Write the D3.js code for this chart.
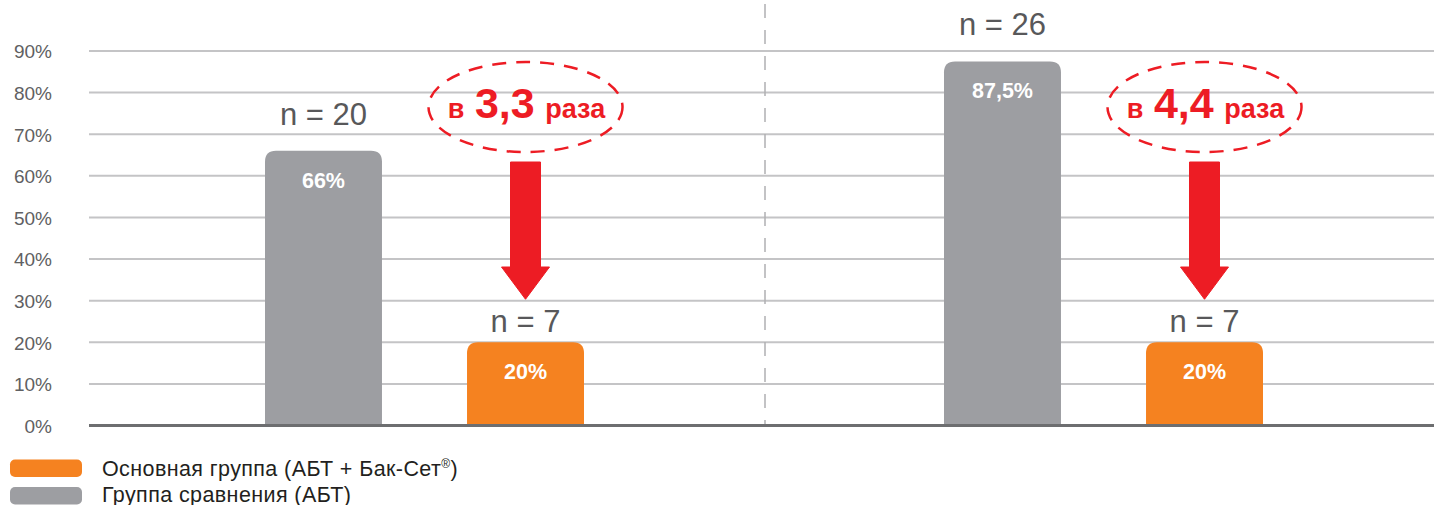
<!DOCTYPE html>
<html><head><meta charset="utf-8">
<script src="https://cdn.jsdelivr.net/npm/d3@7"></script>
<style>html,body{margin:0;padding:0;background:#fff;}svg{display:block;font-family:"Liberation Sans",Arial,sans-serif;}</style>
</head><body>
<svg id="c" width="1434" height="505"></svg>
<script>
const groups = ["g1", "g2"];
const seriesKeys = ["comparison", "main"];
const legendNames = ["Основная группа (АБТ + Бак-Сет", "Группа сравнения (АБТ)"];
const comparisonValues = [66, 87.5];
const mainValues = [20, 20];
const comparisonLabels = ["66%", "87,5%"];
const mainLabels = ["20%", "20%"];
const comparisonN = ["n = 20", "n = 26"];
const mainN = ["n = 7", "n = 7"];
const ratioLabels = ["3,3", "4,4"];
const yTicks = [0, 10, 20, 30, 40, 50, 60, 70, 80, 90];

const COLORS = {comparison: "#9d9ea2", main: "#f58220"};
const N_OFFSET = {comparison: 26, main: 10};
const RED = "#ed1c24";

const svg = d3.select("#c");
const y = d3.scaleLinear().domain([0, 90]).range([425.5, 51]);
const x0 = d3.scaleBand().domain(groups).range([90, 1448]).padding(0);
const x1 = d3.scaleBand().domain(seriesKeys).range([175, 494]).paddingInner(0.421).paddingOuter(0);
const bx = d => x0(d.g) + x1(d.key);

// gridlines
svg.append("g").selectAll("line").data(yTicks.filter(d => d > 0)).join("line")
  .attr("x1", 89).attr("x2", 1434).attr("y1", d => y(d)).attr("y2", d => y(d))
  .attr("stroke", "#c4c4c6").attr("stroke-width", 2);

// y axis labels
const yAxis = d3.axisLeft(y).tickValues(yTicks).tickFormat(d => d + "%").tickSize(0).tickPadding(0);
const ya = svg.append("g").attr("transform", "translate(52,0)").call(yAxis);
ya.select(".domain").remove();
ya.selectAll("text").attr("font-size", 19).attr("fill", "#606062")
  .attr("font-family", "'Liberation Sans',Arial,sans-serif").attr("dy", "0.36em");

// divider
svg.append("line").attr("x1", 765).attr("x2", 765).attr("y1", 4).attr("y2", 425)
  .attr("stroke", "#b0b0b2").attr("stroke-width", 1.5).attr("stroke-dasharray", "14,12");

function roundTopRect(x, yTop, w, h, r) {
  return `M${x},${yTop + h}V${yTop + r}Q${x},${yTop} ${x + r},${yTop}H${x + w - r}Q${x + w},${yTop} ${x + w},${yTop + r}V${yTop + h}Z`;
}

const data = [];
groups.forEach((g, i) => {
  data.push({g, key: "comparison", v: comparisonValues[i], label: comparisonLabels[i], n: comparisonN[i]});
  data.push({g, key: "main", v: mainValues[i], label: mainLabels[i], n: mainN[i]});
});

svg.append("g").selectAll("path").data(data).join("path")
  .attr("d", d => roundTopRect(bx(d), y(d.v), x1.bandwidth(), y(0) - y(d.v), 11))
  .attr("fill", d => COLORS[d.key]);

// value labels
svg.append("g").selectAll("text").data(data).join("text")
  .attr("x", d => bx(d) + x1.bandwidth() / 2)
  .attr("y", d => y(d.v) + 37)
  .attr("text-anchor", "middle").attr("font-size", 21.5).attr("font-weight", "bold")
  .attr("fill", "#fff").text(d => d.label);

// n labels
svg.append("g").selectAll("text").data(data).join("text")
  .attr("x", d => bx(d) + x1.bandwidth() / 2)
  .attr("y", d => y(d.v) - N_OFFSET[d.key])
  .attr("text-anchor", "middle").attr("font-size", 31)
  .attr("fill", "#58585a").text(d => d.n);

// zero line
svg.append("line").attr("x1", 89).attr("x2", 1434).attr("y1", y(0)).attr("y2", y(0))
  .attr("stroke", "#6d6e70").attr("stroke-width", 3);

// annotations: ellipse + arrow
groups.forEach((g, i) => {
  const cx = x0(g) + x1("main") + x1.bandwidth() / 2;
  const ag = svg.append("g");
  ag.append("ellipse").attr("cx", cx).attr("cy", 107).attr("rx", 97).attr("ry", 45)
    .attr("fill", "none").attr("stroke", RED).attr("stroke-width", 2.5)
    .attr("stroke-dasharray", "14,10");
  const t = ag.append("text").attr("x", cx + 1).attr("y", 118).attr("text-anchor", "middle")
    .attr("fill", RED).attr("font-weight", "bold");
  t.append("tspan").attr("font-size", 27).text("в ");
  t.append("tspan").attr("font-size", 43).attr("dx", 3).text(ratioLabels[i]);
  t.append("tspan").attr("font-size", 27).attr("dx", 3).text(" раза");
  const top = 162, headY = 267, tipY = y(mainValues[i]) - 43;
  const sw = 15, hw = 24;
  ag.append("path").attr("d",
    `M${cx - sw},${top}H${cx + sw}V${headY}H${cx + hw}L${cx},${tipY}L${cx - hw},${headY}H${cx - sw}Z`)
    .attr("fill", RED).attr("stroke", RED).attr("stroke-width", 1).attr("stroke-linejoin", "round");
});

// legend
const legendKeys = ["main", "comparison"];
const lg = svg.append("g");
legendKeys.forEach((k, i) => {
  lg.append("rect").attr("x", 10).attr("y", 459.5 + i * 27.5).attr("width", 72).attr("height", 17.5)
    .attr("rx", 5).attr("fill", COLORS[k]);
  const t = lg.append("text").attr("x", 102).attr("y", 476 + i * 25.5).attr("font-size", 21.5)
    .attr("letter-spacing", 0.4).attr("fill", "#231f20").text(legendNames[i]);
  if (k === "main") {
    t.append("tspan").attr("font-size", 12).attr("dy", -8).text("®");
    t.append("tspan").attr("dy", 8).text(")");
  }
});
</script>
</body></html>
